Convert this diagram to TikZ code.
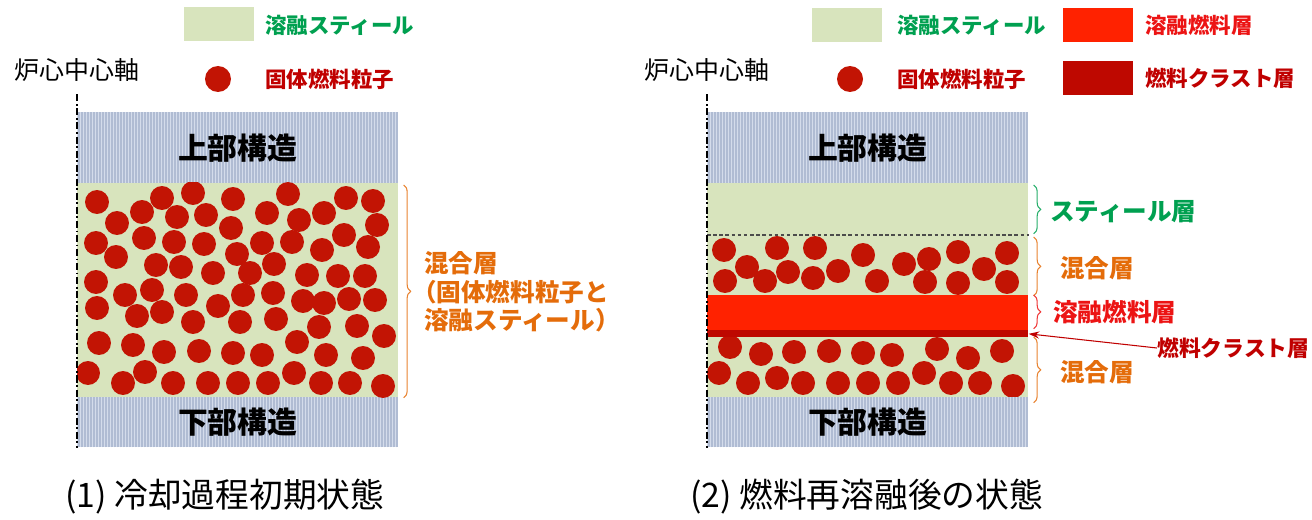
\documentclass[tikz,border=0pt]{standalone}
\usepackage{fontspec}
\setmainfont{Noto Sans CJK JP}
\usetikzlibrary{arrows.meta,decorations.pathreplacing,positioning}
\definecolor{steel}{RGB}{216,228,189}
\definecolor{structbg}{RGB}{212,220,235}
\definecolor{structln}{RGB}{176,188,211}
\definecolor{fuelred}{RGB}{194,20,4}
\definecolor{molten}{RGB}{255,34,0}
\definecolor{crust}{RGB}{190,8,0}
\definecolor{steeltxt}{RGB}{0,160,80}
\definecolor{fueltxt}{RGB}{192,0,0}
\definecolor{moltxt}{RGB}{236,20,20}
\definecolor{mixtxt}{RGB}{228,108,10}
\begin{document}
\begin{tikzpicture}[
  x=0.02cm, y=-0.02cm,
  struct/.style={rectangle, inner sep=0pt, anchor=north west, fill=structbg,
    minimum width=6.42cm, minimum height=1.42cm,
    font=\fontsize{17}{20}\selectfont\bfseries,
    path picture={\foreach \s in {0,...,107}
      \draw[structln, line width=0.03cm] ([xshift=0.03cm+\s*0.06cm]path picture bounding box.south west)
        -- ([xshift=0.03cm+\s*0.06cm]path picture bounding box.north west);}},
  layer/.style={rectangle, inner sep=0pt, anchor=north west, minimum width=6.42cm},
  keybox/.style={rectangle, inner sep=0pt, minimum width=1.4cm, minimum height=0.7cm},
  keydot/.style={circle, inner sep=0pt, fill=fuelred, minimum size=0.52cm},
  key/.style={inner sep=0pt, anchor=west, font=\fontsize{12.2}{15}\selectfont\bfseries},
  lbl/.style={inner sep=0pt, anchor=west, font=\fontsize{14}{16.2}\selectfont\bfseries},
  captxt/.style={inner sep=0pt, anchor=west, font=\fontsize{19.2}{22}\selectfont},
  axtxt/.style={inner sep=0pt, font=\fontsize{14.2}{17}\selectfont},
  axis/.style={line width=1pt, dash pattern=on 4pt off 1.5pt on 1pt off 1.5pt},
  brace/.style={decorate, decoration={brace, amplitude=4pt}, line width=0.6pt},
  crustarr/.style={-{Stealth[length=6pt, width=4pt]}, fueltxt, line width=0.6pt}
]
\useasboundingbox (0,0) rectangle (1312,520);

% (1) initial state
\node[struct] (lup) at (77,112) {上部構造};
\node[layer, fill=steel, minimum height=4.28cm] (lmix) at (77,183) {};
\node[struct, minimum height=1cm] (llow) at (77,397) {下部構造};
\begin{scope}
\clip (lmix.north west) rectangle (lmix.south east);
\foreach \px/\py in {97/202, 117/223, 142/212, 162/198, 177/217, 193/193, 206/215, 233/199,
  231/228, 267/213, 288/194, 299/220, 324/213, 346/198, 373/201, 377/225, 344/235, 96/243,
  116/257, 144/238, 174/242, 204/244, 237/254, 262/243, 292/242, 322/250, 368/247, 156/265,
  181/267, 213/273, 250/273, 274/264, 307/275, 338/276, 365/276, 96/282, 125/295, 152/290,
  186/295, 243/295, 273/293, 303/301, 324/303, 349/299, 375/300, 97/308, 137/316, 162/312,
  193/322, 218/306, 240/322, 276/319, 319/327, 357/326, 384/336, 99/343, 133/345, 164/352,
  199/351, 233/353, 262/355, 297/342, 326/355, 363/358, 88/373, 123/383, 145/372, 173/383,
  208/383, 238/383, 268/383, 294/373, 321/383, 350/383, 383/386}
  \fill[fuelred] (\px,\py) circle (0.24cm);
\end{scope}

\node[axtxt] (laxtxt) at (77,70) {炉心中心軸};
\draw[axis] ([yshift=-0.25cm]laxtxt.south) -- (llow.south west);

\node[keybox, fill=steel] (lkeysteel) at (219,24) {};
\node[key, text=steeltxt] (lkeysteeltxt) at (265,25) {溶融スティール};
\node[keydot] (lkeydot) at (218,79) {};
\node[key, text=fueltxt] (lkeydottxt) at (265,79) {固体燃料粒子};

\draw[brace, mixtxt!85] ([xshift=0.1cm,yshift=-0.04cm]lmix.north east) -- ([xshift=0.1cm]lmix.south east);
\node[lbl, text=mixtxt, align=left] (lmixtxt) at (424,292)
  {混合層\\\hspace{-0.5em}（固体燃料粒子と\\溶融スティール）};

\node[captxt] (lcap) at (65,497) {(1) 冷却過程初期状態};

% (2) after fuel remelting
\node[struct] (rup) at (707,112) {上部構造};
\node[layer, fill=steel, minimum height=1.04cm] (rsteel) at (707,183) {};
\node[layer, fill=steel, minimum height=1.2cm] (rmixa) at (707,235) {};
\node[layer, fill=steel, minimum height=1.2cm] (rmixb) at (707,337) {};
\begin{scope}
\clip (rmixa.north west) rectangle (rmixb.south east);
\foreach \px/\py in {724/250, 725/281, 747/267, 765/281, 777/248, 788/272, 813/278, 815/248,
  838/271, 863/255, 877/281, 904/264, 925/282, 929/259, 958/252, 958/283, 984/269, 1007/253,
  1007/282, 730/347, 761/354, 794/352, 829/351, 863/353, 892/355, 937/349, 968/358, 1002/351,
  719/373, 748/383, 777/378, 803/383, 838/383, 868/383, 898/383, 924/373, 951/383, 980/383,
  1013/386}
  \fill[fuelred] (\px,\py) circle (0.24cm);
\end{scope}
\node[layer, fill=molten, minimum height=0.7cm] (rmolten) at (707,295) {};
\node[layer, fill=crust, minimum height=0.14cm] (rcrust) at (707,330) {};
\node[struct, minimum height=1cm] (rlow) at (707,397) {下部構造};
\draw[gray!60!black, line width=0.6pt, dash pattern=on 2pt off 1.5pt] (rmixa.north west) -- (rmixa.north east);

\node[axtxt] (raxtxt) at (707,70) {炉心中心軸};
\draw[axis] ([yshift=-0.25cm]raxtxt.south) -- (rlow.south west);

\node[keybox, fill=steel] (rkeysteel) at (847,25) {};
\node[key, text=steeltxt] (rkeysteeltxt) at (897,25) {溶融スティール};
\node[keydot] (rkeydot) at (850,79) {};
\node[key, text=fueltxt] (rkeydottxt) at (897,79) {固体燃料粒子};
\node[keybox, fill=molten] (rkeymolten) at (1098,25) {};
\node[key, text=moltxt] (rkeymoltentxt) at (1145,25) {溶融燃料層};
\node[keybox, fill=crust] (rkeycrust) at (1098,78) {};
\node[key, text=fueltxt] (rkeycrusttxt) at (1145,78) {燃料クラスト層};

\draw[brace, steeltxt!85] ([xshift=0.1cm,yshift=-0.04cm]rsteel.north east) -- ([xshift=0.1cm,yshift=0.04cm]rsteel.south east);
\draw[brace, mixtxt!85] ([xshift=0.1cm,yshift=-0.04cm]rmixa.north east) -- ([xshift=0.1cm]rmixa.south east);
\draw[brace, moltxt!85] ([xshift=0.1cm]rmolten.north east) -- ([xshift=0.1cm,yshift=0.04cm]rmolten.south east);
\draw[brace, mixtxt!85] ([xshift=0.1cm]rmixb.north east) -- ([xshift=0.1cm,yshift=-0.1cm]rmixb.south east);

\node[lbl, text=steeltxt] (rsteeltxt) at (1050,212) {スティール層};
\node[lbl, text=mixtxt] (rmixatxt) at (1060,268) {混合層};
\node[lbl, text=moltxt] (rmoltentxt) at (1053,312) {溶融燃料層};
\node[lbl, text=fueltxt, font=\fontsize{12.4}{15}\selectfont\bfseries] (rcrusttxt) at (1157,348) {燃料クラスト層};
\node[lbl, text=mixtxt] (rmixbtxt) at (1060,372) {混合層};
\draw[crustarr] (rcrusttxt.west) -- (rcrust.east);

\node[captxt] (rcap) at (690,497) {(2) 燃料再溶融後の状態};
\end{tikzpicture}
\end{document}
